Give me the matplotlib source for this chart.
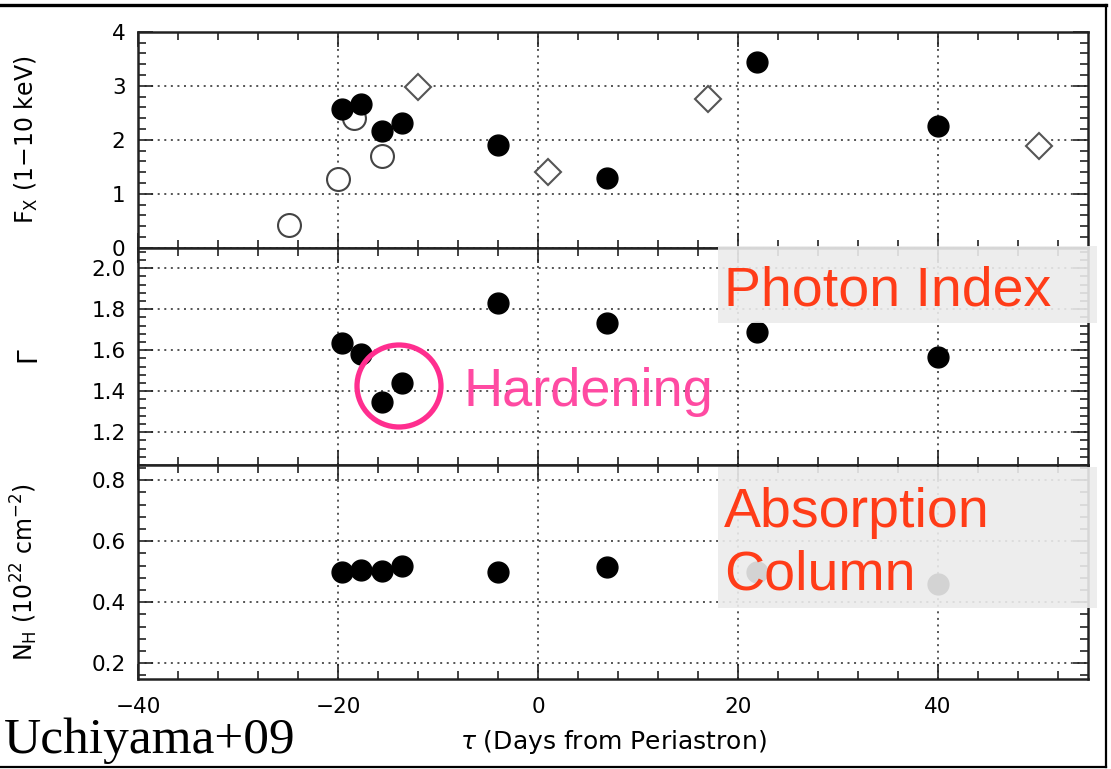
import matplotlib
matplotlib.use("Agg")
import matplotlib.pyplot as plt
from matplotlib.patches import Rectangle, Ellipse
from matplotlib.lines import Line2D
from matplotlib.ticker import MultipleLocator

# ---------------- data ----------------
tau_open = [-24.9, -20.0, -18.4, -15.6]
fx_open = [0.42, 1.27, 2.40, 1.69]

tau_diam = [-12.0, 1.0, 17.0, 50.1]
fx_diam = [2.98, 1.41, 2.76, 1.88]

tau_fill = [-19.6, -17.7, -15.6, -13.6, -4.0, 6.9, 21.9, 40.0]
fx_fill = [2.56, 2.67, 2.17, 2.31, 1.90, 1.30, 3.43, 2.26]
gamma_fill = [1.637, 1.58, 1.346, 1.44, 1.83, 1.732, 1.688, 1.569]
nh_fill = [0.498, 0.507, 0.503, 0.519, 0.498, 0.517, 0.50, 0.46]

x_ticks = [-40, -20, 0, 20, 40]
fx_ticks = [0, 1, 2, 3, 4]
gamma_ticks = [1.2, 1.4, 1.6, 1.8, 2.0]
nh_ticks = [0.2, 0.4, 0.6, 0.8]

# ---------------- figure ----------------
plt.rcParams['font.family'] = ['DejaVu Sans']
plt.rcParams['mathtext.fontset'] = 'dejavusans'

W, H = 1111, 769
fig = plt.figure(figsize=(W / 100, H / 100), dpi=100)
fig.patch.set_facecolor('white')

L, R = 138, 1088


def add_ax(top_px, bot_px):
    return fig.add_axes([L / W, 1 - bot_px / H, (R - L) / W, (bot_px - top_px) / H])


ax1 = add_ax(31.7, 247.7)
ax2 = add_ax(247.7, 465.0)
ax3 = add_ax(465.0, 679.0)

grid_kw = dict(color='black', linestyle=(0, (1.3, 3.0)), linewidth=1.1, alpha=0.85)

for ax in (ax1, ax2, ax3):
    ax.set_xlim(-40, 55)
    ax.xaxis.set_major_locator(plt.FixedLocator(x_ticks))
    ax.xaxis.set_minor_locator(MultipleLocator(4))
    ax.tick_params(which='both', direction='in', top=True, right=True,
                   labelsize=15.5, width=1.2, color='#222222')
    ax.tick_params(which='major', length=11)
    ax.tick_params(which='minor', length=6)
    ax.tick_params(axis='x', pad=13)
    ax.tick_params(axis='y', pad=9)
    for s in ax.spines.values():
        s.set_linewidth(1.8)
        s.set_color('#222222')
    ax.grid(True, which='major', **grid_kw)
    ax.set_axisbelow(True)

ax1.tick_params(labelbottom=False)
ax2.tick_params(labelbottom=False)

# top panel
ax1.set_ylim(0, 4)
ax1.yaxis.set_major_locator(plt.FixedLocator(fx_ticks))
ax1.yaxis.set_minor_locator(MultipleLocator(0.2))
ax1.plot(tau_open, fx_open, 'o', ms=16.5, mfc='white', mec='#444444', mew=1.5, zorder=3)
ax1.plot(tau_diam, fx_diam, 'D', ms=13, mfc='white', mec='#555555', mew=1.5, zorder=3)
ax1.plot(tau_fill, fx_fill, 'o', ms=15, color='black', zorder=4)
ax1.set_ylabel(r'F$_\mathrm{X}$ (1$-$10 keV)', fontsize=17)

# middle panel
ax2.set_ylim(1.04, 2.10)
ax2.yaxis.set_major_locator(plt.FixedLocator(gamma_ticks))
ax2.yaxis.set_major_formatter(plt.FormatStrFormatter('%.1f'))
ax2.yaxis.set_minor_locator(MultipleLocator(0.04))
ax2.plot(tau_fill, gamma_fill, 'o', ms=15, color='black', zorder=4)
ax2.set_ylabel(r'$\Gamma$', fontsize=19, rotation=90)

# bottom panel
ax3.set_ylim(0.148, 0.85)
ax3.yaxis.set_major_locator(plt.FixedLocator(nh_ticks))
ax3.yaxis.set_major_formatter(plt.FormatStrFormatter('%.1f'))
ax3.yaxis.set_minor_locator(MultipleLocator(0.04))
ax3.plot(tau_fill, nh_fill, 'o', ms=15, color='black', zorder=4)
ax3.set_ylabel(r'N$_\mathrm{H}$ (10$^{22}$ cm$^{-2}$)', fontsize=17)
ax3.set_xlabel(r'$\tau$ (Days from Periastron)', fontsize=18, labelpad=8)

ax1.yaxis.set_label_coords(-(138 - 40) / 950, 0.5)
ax2.yaxis.set_label_coords(-(138 - 44) / 950, 0.5)
ax3.yaxis.set_label_coords(-(138 - 40) / 950, 0.5)


# ---------------- overlays (figure pixel coords) ----------------
def fx(px):
    return px / W


def fy(py):
    return 1 - py / H


box_kw = dict(facecolor='#ebebeb', edgecolor='none', alpha=0.9,
              transform=fig.transFigure, zorder=10)
fig.add_artist(Rectangle((fx(718), fy(323)), (1097 - 718) / W, (323 - 246) / H, **box_kw))
fig.add_artist(Rectangle((fx(718), fy(608)), (1097 - 718) / W, (608 - 467) / H, **box_kw))

red = '#ff3c18'
fig.text(fx(724), fy(305), 'Photon Index', color=red, fontsize=40,
         family='Liberation Sans', va='baseline', ha='left', zorder=11)
fig.text(fx(724), fy(527), 'Absorption', color=red, fontsize=40,
         family='Liberation Sans', va='baseline', ha='left', zorder=11)
fig.text(fx(724), fy(590), 'Column', color=red, fontsize=40,
         family='Liberation Sans', va='baseline', ha='left', zorder=11)

fig.text(fx(463), fy(406), 'Hardening', color='#ff4aa2', fontsize=39,
         family='Liberation Sans', va='baseline', ha='left', zorder=11)
fig.add_artist(Ellipse((fx(399), fy(386)), 84 / W, 82 / H, facecolor='none',
                       edgecolor='#ff2e8f', linewidth=3.8,
                       transform=fig.transFigure, zorder=11))

fig.text(fx(4), fy(753), 'Uchiyama+09', color='black', fontsize=37,
         family='Liberation Serif', va='baseline', ha='left', zorder=11)

# outer frame
frame_kw = dict(color='black', transform=fig.transFigure, zorder=12)
fig.add_artist(Line2D([0, fx(1106)], [fy(5), fy(5)], linewidth=2.4, **frame_kw))
fig.add_artist(Line2D([fx(1106), fx(1106)], [fy(5), fy(767)], linewidth=1.6, **frame_kw))
fig.add_artist(Line2D([0, fx(1106)], [fy(767), fy(767)], linewidth=1.6, **frame_kw))

fig.savefig('out.png', dpi=100)
